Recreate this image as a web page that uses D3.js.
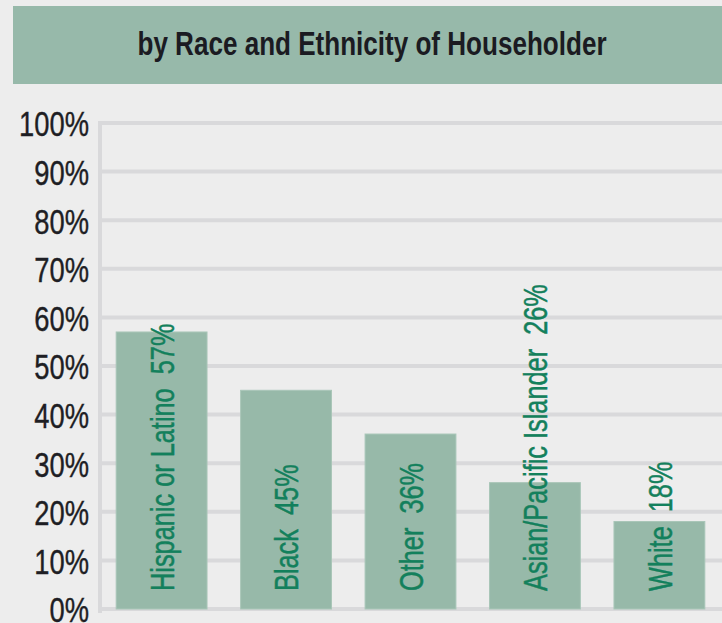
<!DOCTYPE html>
<html>
<head>
<meta charset="utf-8">
<script src="https://cdn.jsdelivr.net/npm/d3@7"></script>
<style>
  body { margin: 0; background: #ededed; }
  svg { display: block; }
  text { font-family: 'Liberation Sans', Arial, sans-serif; }
</style>
</head>
<body>
<script>
let width = 722, height = 623;

// data
let categories = ["Hispanic or Latino", "Black", "Other", "Asian/Pacific Islander", "White"];
let values = [57, 45, 36, 26, 18];
let tickValues = [0, 10, 20, 30, 40, 50, 60, 70, 80, 90, 100];
let title = "by Race and Ethnicity of Householder";

// no condensed font installed, so squeeze the glyphs sideways
let squeeze = 0.76;

let svg = d3.select("body").append("svg")
    .attr("width", width)
    .attr("height", height);

svg.append("rect")
    .attr("width", width).attr("height", height)
    .attr("fill", "#ededed");

// header band
svg.append("rect")
    .attr("x", 13).attr("y", 6)
    .attr("width", width - 13).attr("height", 78)
    .attr("fill", "#97b9aa");

svg.append("text")
    .attr("transform", "translate(372,55) scale(0.79,1)")
    .attr("text-anchor", "middle")
    .attr("font-size", 33)
    .attr("font-weight", "bold")
    .attr("fill", "#1b1b22")
    .text(title);

let y = d3.scaleLinear().domain([0, 100]).range([609, 123]);
let x = d3.scaleBand().domain(categories)
    .range([100, 721])
    .paddingInner(0.27)
    .paddingOuter(0.13);

// gridlines
svg.append("g").selectAll("line.grid")
    .data(tickValues)
    .enter().append("line")
    .attr("class", "grid")
    .attr("x1", 98).attr("x2", width)
    .attr("y1", d => y(d)).attr("y2", d => y(d))
    .attr("stroke", "#d9d9db")
    .attr("stroke-width", 4);

svg.append("line")
    .attr("x1", 100).attr("x2", 100)
    .attr("y1", y(100) - 2).attr("y2", y(0) + 4)
    .attr("stroke", "#d9d9db")
    .attr("stroke-width", 4);

// y axis labels
let yAxis = d3.axisLeft(y)
    .tickValues(tickValues)
    .tickSize(0)
    .tickPadding(0)
    .tickFormat(d => d + "%");

let gy = svg.append("g")
    .attr("transform", "translate(89,0)")
    .call(yAxis);
gy.select(".domain").remove();
gy.attr("font-family", null).attr("font-size", null);
gy.selectAll("text")
    .attr("font-size", 36)
    .attr("fill", "#1e1e24")
    .attr("stroke", "#1e1e24")
    .attr("stroke-width", 0.4)
    .attr("dy", "0.36em")
    .attr("transform", "scale(" + squeeze + ",1)");

// bars
svg.append("g").selectAll("rect.bar")
    .data(values)
    .enter().append("rect")
    .attr("class", "bar")
    .attr("x", (d, i) => x(categories[i]))
    .attr("width", x.bandwidth())
    .attr("y", d => y(d))
    .attr("height", d => y(0) - y(d))
    .attr("fill", "#97b9a9")
    .attr("stroke", "#a9c6b8")
    .attr("stroke-width", 1);

// labels inside bars, reading bottom to top
svg.append("g").selectAll("text.lbl")
    .data(values)
    .enter().append("text")
    .attr("class", "lbl")
    .attr("transform", (d, i) => "translate(" + (x(categories[i]) + x.bandwidth() / 2) + "," + (y(0) - 18) + ") rotate(-90) scale(0.745,1)")
    .attr("dy", "0.36em")
    .attr("font-size", 34)
    .attr("fill", "#13805c")
    .attr("stroke", "#13805c")
    .attr("stroke-width", 0.5)
    .style("white-space", "pre")
    .text((d, i) => categories[i] + "  " + d + "%");
</script>
</body>
</html>
